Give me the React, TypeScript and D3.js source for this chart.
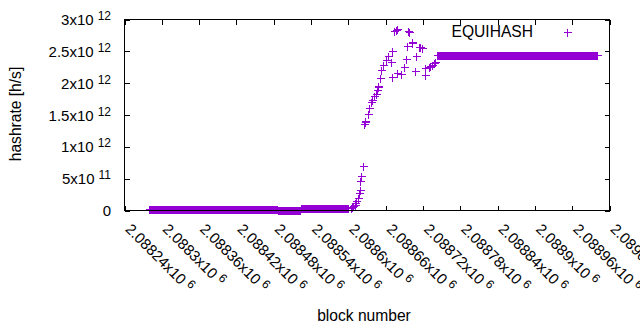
import React from "react";
import * as d3 from "d3";

// ---- data ----
// constant runs (one value per block inside each run)
const runStart = [2088280, 2088487, 2088524, 2088561, 2088742];
const runEnd = [2088486, 2088523, 2088560, 2088600, 2089000];
const runValue = [2.5e10, 2e9, 4.5e10, 3.5e10, 2.44e12];

// scattered points in the transition
const scatterBlocks = [
  2088604, 2088606, 2088608, 2088610, 2088611, 2088613, 2088615, 2088617, 2088618, 2088619,
  2088621, 2088624, 2088625, 2088626, 2088627, 2088631, 2088633, 2088637, 2088638, 2088641,
  2088644, 2088646, 2088647, 2088648, 2088651, 2088653, 2088655, 2088660, 2088663, 2088668,
  2088670, 2088671, 2088673, 2088676, 2088677, 2088678, 2088679, 2088684, 2088689, 2088692,
  2088694, 2088696, 2088697, 2088702, 2088703, 2088707, 2088709, 2088714, 2088716, 2088718,
  2088723, 2088724, 2088730, 2088732, 2088734, 2088737, 2088739,
];
const scatterValues = [
  4.0e10, 5.3e10, 7.4e10, 9.0e10, 1.13e11, 1.42e11, 1.95e11, 2.74e11, 3.26e11, 4.56e11,
  5.35e11, 7.03e11, 1.36e12, 1.384e12, 1.40e12, 1.52e12, 1.616e12, 1.70e12, 1.74e12, 1.80e12,
  1.836e12, 1.90e12, 1.946e12, 1.96e12, 2.087e12, 2.213e12, 2.29e12, 2.37e12, 2.43e12, 2.33e12,
  2.50e12, 2.10e12, 2.816e12, 2.83e12, 2.84e12, 2.85e12, 2.16e12, 2.15e12, 2.256e12, 2.38e12,
  2.58e12, 2.816e12, 2.80e12, 2.63e12, 2.65e12, 2.187e12, 2.433e12, 2.57e12, 2.57e12, 2.56e12,
  2.135e12, 2.24e12, 2.26e12, 2.276e12, 2.29e12, 2.31e12, 2.328e12,
];

const xTicks = [
  2088240, 2088300, 2088360, 2088420, 2088480, 2088540, 2088600,
  2088660, 2088720, 2088780, 2088840, 2088900, 2088960, 2089020,
];
const xTickMantissa = [
  "2.08824", "2.0883", "2.08836", "2.08842", "2.08848", "2.08854", "2.0886",
  "2.08866", "2.08872", "2.08878", "2.08884", "2.0889", "2.08896", "2.08902",
];
const xTickExp = "6";

const yTicks = [0, 5e11, 1e12, 1.5e12, 2e12, 2.5e12, 3e12];
const yTickMantissa = ["0", "5", "1", "1.5", "2", "2.5", "3"];
const yTickExp = ["", "11", "12", "12", "12", "12", "12"];

const seriesName = "EQUIHASH";
const xLabel = "block number";
const yLabel = "hashrate [h/s]";

// ---- layout ----
const W = 640;
const H = 330;
const L = 124.5;
const R = 609.5;
const T = 19.5;
const B = 210.5;
const COLOR = "#9400d3";
const FONT = "'Liberation Sans', Arial, sans-serif";

export default function App() {
  const x = d3.scaleLinear().domain([2088240, 2089020]).range([L, R]);
  const y = d3.scaleLinear().domain([0, 3e12]).range([B, T]);

  const points: [number, number][] = [];
  runStart.forEach((s, i) => {
    for (let b = s; b <= runEnd[i]; b++) points.push([b, runValue[i]]);
  });
  scatterBlocks.forEach((b, i) => points.push([b, scatterValues[i]]));

  const m = 4;
  const plus = (cx: number, cy: number) => {
    const px = Math.round(cx) + 0.5;
    const py = Math.round(cy) + 0.5;
    return `M${px - m},${py}H${px + m}M${px},${py - m}V${py + m}`;
  };
  const markerPath = points.map(([b, v]) => plus(x(b), y(v))).join("");

  const tickLen = 5;

  return (
    <svg
      width={W}
      height={H}
      style={{ position: "absolute", left: 0, top: 0, background: "#fff" }}
      fontFamily={FONT}
    >
      <rect x={0} y={0} width={W} height={H} fill="#fff" />
      {/* ticks */}
      <g stroke="#000" strokeWidth={1} shapeRendering="crispEdges">
        {xTicks.map((t, i) => {
          const px = Math.round(x(t)) + 0.5;
          return (
            <g key={i}>
              <line x1={px} x2={px} y1={B} y2={B - tickLen} />
              <line x1={px} x2={px} y1={T} y2={T + tickLen} />
            </g>
          );
        })}
        {yTicks.map((t, i) => {
          const py = Math.round(y(t)) + 0.5;
          return (
            <g key={i}>
              <line x1={L} x2={L + tickLen} y1={py} y2={py} />
              <line x1={R} x2={R - tickLen} y1={py} y2={py} />
            </g>
          );
        })}
      </g>
      {/* y tick labels */}
      <g fontSize={15} fill="#000">
        {yTicks.map((t, i) => (
          <text key={i} x={111} y={y(t) + 5.5} textAnchor="end">
            {yTickExp[i] === "" ? (
              yTickMantissa[i]
            ) : (
              <>
                <tspan>{yTickMantissa[i] + "x10"}</tspan>
                <tspan dx={4} dy={-5} fontSize={12}>
                  {yTickExp[i]}
                </tspan>
              </>
            )}
          </text>
        ))}
      </g>
      {/* x tick labels */}
      <g fontSize={15} fill="#000">
        {xTicks.map((t, i) => {
          const px = x(t);
          return (
            <text key={i} transform={`translate(${px},230) rotate(45)`}>
              <tspan>{xTickMantissa[i] + "x10"}</tspan>
              <tspan dx={4} dy={-5} fontSize={12}>
                {xTickExp}
              </tspan>
            </text>
          );
        })}
      </g>
      {/* data */}
      <path d={markerPath} stroke={COLOR} strokeWidth={1} fill="none" shapeRendering="crispEdges" />
      {/* border */}
      <rect x={L} y={T} width={R - L} height={B - T} fill="none" stroke="#000" strokeWidth={1} shapeRendering="crispEdges" />
      {/* legend */}
      <text x={533} y={37} fontSize={15.6} textAnchor="end" fill="#000">
        {seriesName}
      </text>
      <path d={plus(567, 32)} stroke={COLOR} strokeWidth={1} fill="none" shapeRendering="crispEdges" />
      {/* axis labels */}
      <text x={364} y={321} fontSize={15.6} textAnchor="middle" fill="#000">
        {xLabel}
      </text>
      <text transform={`translate(21,114) rotate(-90)`} fontSize={15.6} textAnchor="middle" fill="#000">
        {yLabel}
      </text>
    </svg>
  );
}
